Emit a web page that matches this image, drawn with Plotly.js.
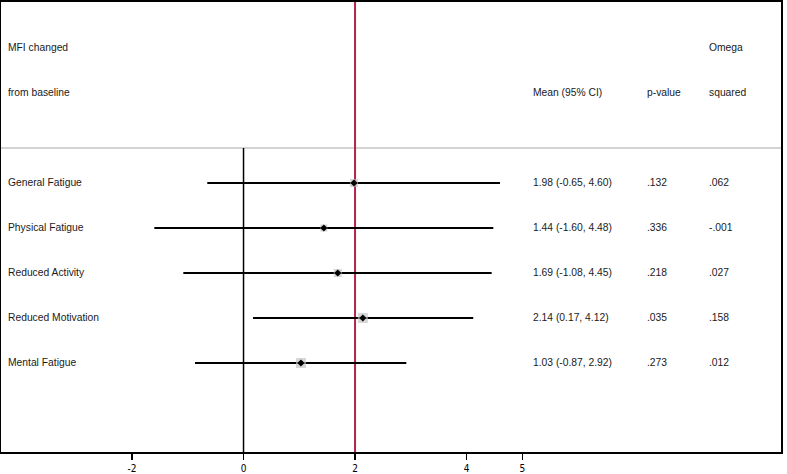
<!DOCTYPE html>
<html>
<head>
<meta charset="utf-8">
<script src="https://cdn.plot.ly/plotly-3.0.1.min.js"></script>
<style>
  html, body { margin: 0; padding: 0; background: #ffffff; }
  #chart { width: 787px; height: 474px; }
</style>
</head>
<body>
<div id="chart"></div>
<script>
// ---- data ----
var outcomes = ["General Fatigue", "Physical Fatigue", "Reduced Activity", "Reduced Motivation", "Mental Fatigue"];
var means = [1.98, 1.44, 1.69, 2.14, 1.03];
var ciLow = [-0.65, -1.60, -1.08, 0.17, -0.87];
var ciHigh = [4.60, 4.48, 4.45, 4.12, 2.92];
var pValues = [".132", ".336", ".218", ".035", ".273"];
var omegaSq = [".062", "-.001", ".027", ".158", ".012"];
var weights = [8, 7, 8, 10, 10];
var refValue = 2;
var tickValues = [-2, 0, 2, 4, 5];
var tickLabels = ["-2", "0", "2", "4", "5"];
var headerLeft = ["MFI changed", "from baseline"];
var headerMean = "Mean (95% CI)";
var headerP = "p-value";
var headerOmega = ["Omega", "squared"];

// ---- layout helpers ----
var rows = outcomes.map(function (_, i) { return i + 1; });
var W = 787, H = 474;
var mL = 1, mR = 6, mT = 2, mB = 22;
var plotW = W - mL - mR;
function px(p) { return (p - mL) / plotW; }

var txtFont = { family: "Liberation Sans, Arial, sans-serif", size: 10.3, color: "#1a1a1a" };

var ciX = [], ciY = [];
for (var i = 0; i < outcomes.length; i++) {
  ciX.push(ciLow[i], ciHigh[i], null);
  ciY.push(rows[i], rows[i], null);
}

var traces = [
  { x: ciX, y: ciY, mode: "lines", type: "scatter", line: { color: "#000000", width: 2 }, hoverinfo: "skip", showlegend: false },
  { x: means, y: rows, mode: "markers", type: "scatter",
    marker: { symbol: "square", color: "#c4c4c4", size: weights, line: { width: 0 } }, showlegend: false },
  { x: means, y: rows, mode: "markers", type: "scatter",
    marker: { symbol: "diamond", color: "#000000", size: 5.5, line: { width: 0 } }, showlegend: false }
];

var annotations = [];
function addText(text, xp, y) {
  annotations.push({ text: text, xref: "paper", yref: "y", x: px(xp), y: y,
    xanchor: "left", yanchor: "middle", showarrow: false, font: txtFont, borderpad: 0 });
}
addText(headerLeft[0], 7, -2);
addText(headerLeft[1], 7, -1);
addText(headerMean, 532, -1);
addText(headerP, 646, -1);
addText(headerOmega[0], 708, -2);
addText(headerOmega[1], 708, -1);
for (var j = 0; j < outcomes.length; j++) {
  addText(outcomes[j], 7, rows[j]);
  addText(means[j].toFixed(2) + " (" + ciLow[j].toFixed(2) + ", " + ciHigh[j].toFixed(2) + ")", 532, rows[j]);
  addText(pValues[j], 646, rows[j]);
  addText(omegaSq[j], 708, rows[j]);
}

var sepY = 0.222;
var yTop = -3.022, yBot = 6.978;

var layout = {
  width: W, height: H,
  margin: { l: mL, r: mR, t: mT, b: mB, pad: 0 },
  paper_bgcolor: "#ffffff", plot_bgcolor: "#ffffff",
  showlegend: false,
  xaxis: {
    range: [-4.35, 9.64], tickvals: tickValues, ticktext: tickLabels,
    ticks: "outside", ticklen: 6, tickwidth: 1.5, tickcolor: "#000",
    showline: true, mirror: true, linecolor: "#000", linewidth: 2,
    showgrid: false, zeroline: false, fixedrange: true,
    tickfont: { family: "Liberation Sans Narrow, Arial Narrow, DejaVu Sans Condensed, sans-serif", size: 10, color: "#000" }
  },
  yaxis: {
    range: [yBot, yTop], showticklabels: false, ticks: "",
    showline: true, mirror: true, linecolor: "#000", linewidth: 2,
    showgrid: false, zeroline: false, fixedrange: true
  },
  shapes: [
    { type: "line", layer: "below", xref: "paper", yref: "y", x0: 0, x1: 1, y0: sepY, y1: sepY,
      line: { color: "#c4c4c4", width: 1.5 } },
    { type: "line", layer: "below", xref: "x", yref: "y", x0: 0, x1: 0, y0: sepY, y1: yBot,
      line: { color: "#000000", width: 1.5 } },
    { type: "line", layer: "below", xref: "x", yref: "paper", x0: refValue, x1: refValue, y0: 0, y1: 1,
      line: { color: "#b3244d", width: 2 } }
  ],
  annotations: annotations
};

Plotly.newPlot("chart", traces, layout, { displayModeBar: false, staticPlot: true });
</script>
</body>
</html>
